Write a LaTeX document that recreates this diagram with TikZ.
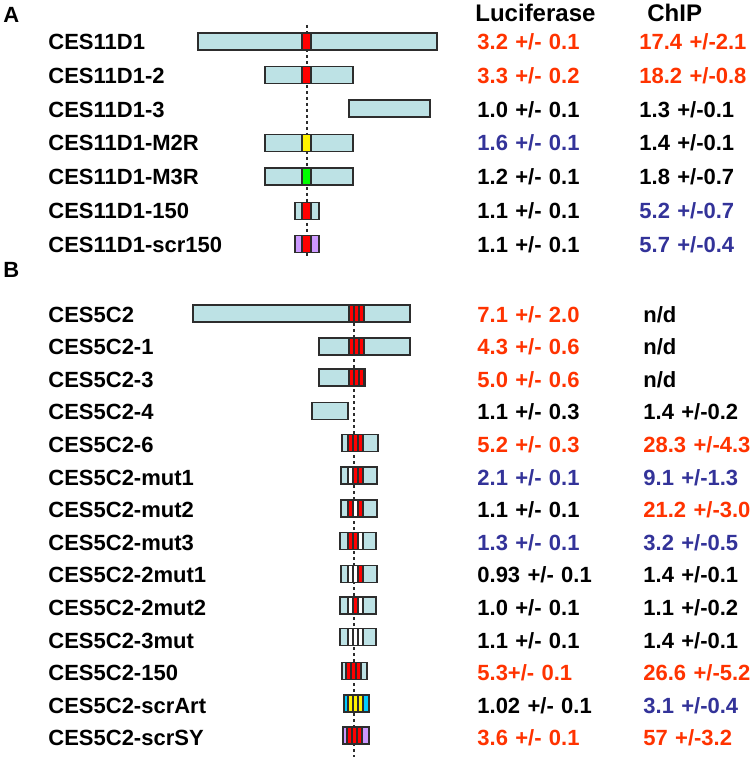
\documentclass[tikz,border=0pt]{standalone}
\usepackage{fontspec}
\setmainfont{Liberation Sans}
\usetikzlibrary{positioning}

\definecolor{barcyan}{RGB}{189,226,229}
\definecolor{bardark}{RGB}{45,45,45}
\definecolor{scrpurple}{RGB}{204,153,255}
\definecolor{artcyan}{RGB}{0,204,255}
\definecolor{upred}{RGB}{255,51,0}
\definecolor{downblue}{RGB}{51,51,153}

% y, left, right
\newcommand{\plainbar}[3]{%
  \draw[bar] (#2,#1-8.5) rectangle (#3,#1+8.5);}
% y, left, right, flank colour, mark colour
\newcommand{\markbar}[5]{%
  \draw[bar, fill=#4] (#2,#1-8.5) rectangle (#3,#1+8.5);
  \draw[bar, fill=#5] (302,#1-8.5) rectangle (311,#1+8.5);}
% y, left, right, flank colour, start of sites, three site colours
\newcommand{\sitebar}[8]{%
  \fill[#4] (#2,#1-8.5) rectangle (#3,#1+8.5);
  \fill[bardark] (#5,#1-8.5) rectangle ++(16.5,17);
  \fill[#6] (#5+1.5,#1-8.5) rectangle ++(3.5,17);
  \fill[#7] (#5+6.5,#1-8.5) rectangle ++(3.5,17);
  \fill[#8] (#5+11.5,#1-8.5) rectangle ++(3.5,17);
  \draw[bar, fill=none] (#2,#1-8.5) rectangle (#3,#1+8.5);}

\begin{document}
\begin{tikzpicture}
    [x=0.5pt, y=-0.5pt,
    node distance=16.9pt,
    bar/.style={draw=bardark, line width=0.75pt, fill=barcyan},
    guide/.style={draw=bardark, line width=1pt, dash pattern=on 1.7pt off 1.3pt},
    lbl/.style={inner sep=0pt, text width=100pt, align=left, text height=8pt, text depth=0pt,
        font=\fontsize{11}{13}\selectfont\bfseries},
    val/.style={lbl, text width=70pt},
    head/.style={lbl, text width=60pt, text height=8.6pt, font=\fontsize{12}{14}\selectfont\bfseries},
    redval/.style={text=upred},
    blueval/.style={text=downblue}]
        \useasboundingbox (0,0) rectangle (750,758);

        %% Headings
        \node[lbl, text width=12pt, anchor=west] (pA) at (3,14.5) {A};
        \node[lbl, text width=12pt, anchor=west] (pB) at (3,270) {B};
        \node[head, anchor=west] (luc) at (475,13) {Luciferase};
        \node[head, anchor=west] (chip) at (647,13) {ChIP};

        %% Guide lines
        \coordinate (topA) at (307,25);
        \coordinate (botA) at (307,256);
        \coordinate (topB) at (354,305);
        \coordinate (botB) at (354,757);
        \draw[guide] (topA) to (botA);
        \draw[guide] (topB) to (botB);

        %% Panel A
        \node[lbl, anchor=west] (a1) at (48,41.5) {CES11D1};
        \node[lbl, below of = a1] (a2) {CES11D1-2};
        \node[lbl, below of = a2] (a3) {CES11D1-3};
        \node[lbl, below of = a3] (a4) {CES11D1-M2R};
        \node[lbl, below of = a4] (a5) {CES11D1-M3R};
        \node[lbl, below of = a5] (a6) {CES11D1-150};
        \node[lbl, below of = a6] (a7) {CES11D1-scr150};

        \node[val, redval, anchor=west] (la1) at (477,41.5) {3.2 +/- 0.1};
        \node[val, redval, below of = la1] (la2) {3.3 +/- 0.2};
        \node[val, below of = la2] (la3) {1.0 +/- 0.1};
        \node[val, blueval, below of = la3] (la4) {1.6 +/- 0.1};
        \node[val, below of = la4] (la5) {1.2 +/- 0.1};
        \node[val, below of = la5] (la6) {1.1 +/- 0.1};
        \node[val, below of = la6] (la7) {1.1 +/- 0.1};

        \node[val, redval, anchor=west] (ca1) at (639,41.5) {17.4 +/-2.1};
        \node[val, redval, below of = ca1] (ca2) {18.2 +/-0.8};
        \node[val, below of = ca2] (ca3) {1.3 +/-0.1};
        \node[val, below of = ca3] (ca4) {1.4 +/-0.1};
        \node[val, below of = ca4] (ca5) {1.8 +/-0.7};
        \node[val, blueval, below of = ca5] (ca6) {5.2 +/-0.7};
        \node[val, blueval, below of = ca6] (ca7) {5.7 +/-0.4};

        \markbar{41.5}{198}{437}{barcyan}{red}
        \markbar{75}{265}{353}{barcyan}{red}
        \plainbar{108.5}{349}{430}
        \markbar{143}{265}{353}{barcyan}{yellow}
        \markbar{176.5}{265}{353}{barcyan}{green}
        \markbar{211}{295}{319}{barcyan}{red}
        \markbar{244}{295}{319}{scrpurple}{red}

        %% Panel B
        \begin{scope}[node distance=16.3pt]
        \node[lbl, anchor=west] (b1) at (48,314) {CES5C2};
        \node[lbl, below of = b1] (b2) {CES5C2-1};
        \node[lbl, below of = b2] (b3) {CES5C2-3};
        \node[lbl, below of = b3] (b4) {CES5C2-4};
        \node[lbl, below of = b4] (b5) {CES5C2-6};
        \node[lbl, below of = b5] (b6) {CES5C2-mut1};
        \node[lbl, below of = b6] (b7) {CES5C2-mut2};
        \node[lbl, below of = b7] (b8) {CES5C2-mut3};
        \node[lbl, below of = b8] (b9) {CES5C2-2mut1};
        \node[lbl, below of = b9] (b10) {CES5C2-2mut2};
        \node[lbl, below of = b10] (b11) {CES5C2-3mut};
        \node[lbl, below of = b11] (b12) {CES5C2-150};
        \node[lbl, below of = b12] (b13) {CES5C2-scrArt};
        \node[lbl, below of = b13] (b14) {CES5C2-scrSY};

        \node[val, redval, anchor=west] (lb1) at (477,314) {7.1 +/- 2.0};
        \node[val, redval, below of = lb1] (lb2) {4.3 +/- 0.6};
        \node[val, redval, below of = lb2] (lb3) {5.0 +/- 0.6};
        \node[val, below of = lb3] (lb4) {1.1 +/- 0.3};
        \node[val, redval, below of = lb4] (lb5) {5.2 +/- 0.3};
        \node[val, blueval, below of = lb5] (lb6) {2.1 +/- 0.1};
        \node[val, below of = lb6] (lb7) {1.1 +/- 0.1};
        \node[val, blueval, below of = lb7] (lb8) {1.3 +/- 0.1};
        \node[val, below of = lb8] (lb9) {0.93 +/- 0.1};
        \node[val, below of = lb9] (lb10) {1.0 +/- 0.1};
        \node[val, below of = lb10] (lb11) {1.1 +/- 0.1};
        \node[val, redval, below of = lb11] (lb12) {5.3+/- 0.1};
        \node[val, below of = lb12] (lb13) {1.02 +/- 0.1};
        \node[val, redval, below of = lb13] (lb14) {3.6 +/- 0.1};

        \node[val, anchor=west] (cb1) at (643,314) {n/d};
        \node[val, below of = cb1] (cb2) {n/d};
        \node[val, below of = cb2] (cb3) {n/d};
        \node[val, below of = cb3] (cb4) {1.4 +/-0.2};
        \node[val, redval, below of = cb4] (cb5) {28.3 +/-4.3};
        \node[val, blueval, below of = cb5] (cb6) {9.1 +/-1.3};
        \node[val, redval, below of = cb6] (cb7) {21.2 +/-3.0};
        \node[val, blueval, below of = cb7] (cb8) {3.2 +/-0.5};
        \node[val, below of = cb8] (cb9) {1.4 +/-0.1};
        \node[val, below of = cb9] (cb10) {1.1 +/-0.2};
        \node[val, below of = cb10] (cb11) {1.4 +/-0.1};
        \node[val, redval, below of = cb11] (cb12) {26.6 +/-5.2};
        \node[val, blueval, below of = cb12] (cb13) {3.1 +/-0.4};
        \node[val, redval, below of = cb13] (cb14) {57 +/-3.2};
        \end{scope}

        \sitebar{313.5}{193}{410}{barcyan}{348}{red}{red}{red}
        \sitebar{346.5}{319}{410}{barcyan}{348}{red}{red}{red}
        \sitebar{377.5}{319}{365}{barcyan}{348}{red}{red}{red}
        \plainbar{411}{312}{348}
        \sitebar{443}{342}{378}{barcyan}{347}{red}{red}{red}
        \sitebar{475.5}{341}{377}{barcyan}{347}{white}{red}{red}
        \sitebar{508.5}{341}{377}{barcyan}{347}{red}{white}{red}
        \sitebar{541}{340}{376}{barcyan}{347}{red}{red}{white}
        \sitebar{574}{341}{377}{barcyan}{347}{white}{white}{red}
        \sitebar{605.5}{340}{376}{barcyan}{347}{white}{red}{white}
        \sitebar{637}{340}{376}{barcyan}{347}{white}{white}{white}
        \sitebar{671}{342}{367}{barcyan}{345}{red}{red}{red}
        \sitebar{703.5}{344}{369}{artcyan}{347}{yellow}{yellow}{yellow}
        \sitebar{735.5}{343}{369}{scrpurple}{346}{red}{red}{red}
    \end{tikzpicture}
\end{document}
